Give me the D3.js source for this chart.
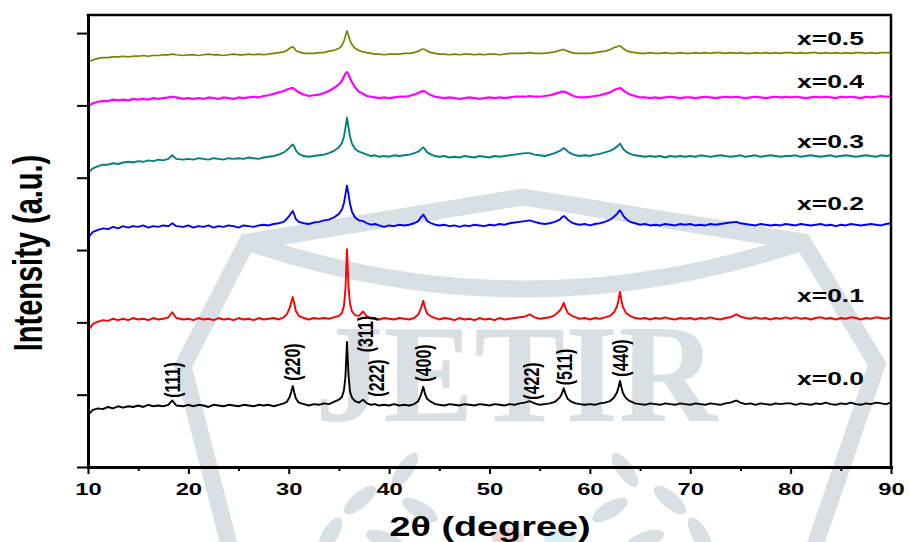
<!DOCTYPE html>
<html>
<head>
<meta charset="utf-8">
<script src="https://cdn.jsdelivr.net/npm/d3@7/dist/d3.min.js"></script>
<style>
	body { margin: 0; background: #fff; }
	svg { display: block; font-family: "Liberation Sans", Arial, sans-serif; }
</style>
</head>
<body>
<div id="chartDiv"></div>
<script>
// 2theta scan positions (deg)
var twoTheta = [
	10, 10.5, 11, 11.5, 12, 12.5, 13, 13.5, 14, 14.5, 15, 15.5, 16, 16.5, 17, 17.5, 18, 18.4, 18.8, 19.5,
	20, 20.5, 21, 21.5, 22, 22.5, 23, 23.5, 24, 24.5, 25, 25.5, 26, 26.5, 27, 27.5, 28, 28.5, 29, 29.5,
	29.8, 30.1, 30.25, 30.4, 30.55, 30.7, 31, 31.5, 32, 32.5, 33, 33.5, 34, 34.5, 35, 35.3, 35.5, 35.65, 35.8, 35.95,
	36.1, 36.3, 36.6, 37, 37.4, 37.8, 38.2, 38.6, 39, 39.5, 40, 40.5, 41, 41.5, 42, 42.5, 42.9, 43.15, 43.4, 43.6,
	43.8, 44.2, 44.6, 45, 45.5, 46, 46.5, 47, 47.5, 48, 48.5, 49, 49.5, 50, 50.5, 51, 51.5, 52, 52.5, 53,
	53.5, 54, 54.5, 55, 55.5, 56, 56.5, 57, 57.2, 57.4, 57.6, 57.8, 58.2, 58.6, 59, 59.5, 60, 60.5, 61, 61.5,
	62, 62.4, 62.7, 62.85, 63, 63.15, 63.3, 63.6, 64, 64.5, 65, 65.5, 66, 66.5, 67, 67.5, 68, 68.5, 69, 69.5,
	70, 70.5, 71, 71.5, 72, 72.5, 73, 73.5, 74, 74.6, 75, 75.5, 76, 76.5, 77, 77.5, 78, 78.5, 79, 79.5,
	80, 80.5, 81, 81.5, 82, 82.5, 83, 83.5, 84, 84.5, 85, 85.5, 86, 86.5, 87, 87.5, 88, 88.5, 89, 89.5,
	90
];

// stacked intensities (a.u.), one list per composition
var intX00 = [
	72, 79, 81, 80, 83, 81, 84, 82, 84, 83, 85, 83, 86, 84, 85, 84, 86, 92, 85, 84,
	86, 84, 86, 85, 83, 86, 85, 84, 86, 85, 84, 86, 85, 84, 86, 85, 86, 84, 86, 88,
	90, 97, 104, 112, 103, 95, 89, 87, 85, 87, 86, 88, 87, 90, 93, 97, 106, 125, 173, 128,
	104, 96, 91, 89, 93, 88, 86, 87, 85, 86, 85, 87, 85, 86, 85, 87, 91, 99, 111, 100,
	94, 90, 87, 86, 85, 87, 86, 85, 87, 86, 85, 87, 86, 85, 87, 86, 85, 87, 86, 88,
	89, 91, 88, 86, 87, 88, 90, 96, 101, 109, 100, 94, 90, 88, 87, 86, 87, 86, 88, 89,
	91, 96, 103, 110, 119, 110, 102, 95, 91, 88, 87, 86, 88, 87, 86, 88, 87, 86, 88, 87,
	86, 88, 87, 86, 88, 87, 86, 88, 89, 92, 89, 87, 88, 86, 88, 87, 86, 88, 87, 88,
	88, 86, 88, 87, 86, 88, 87, 89, 87, 86, 88, 87, 89, 87, 86, 88, 87, 89, 88, 87,
	89
];
var intX01 = [
	189, 198, 201, 203, 202, 205, 203, 205, 203, 206, 204, 205, 203, 206, 204, 205, 207, 214, 206, 204,
	205, 203, 206, 204, 205, 203, 206, 204, 205, 203, 206, 204, 205, 203, 206, 204, 205, 206, 204, 207,
	211, 220, 228, 235, 226, 216, 209, 206, 204, 206, 205, 206, 205, 207, 209, 213, 223, 246, 301, 250,
	226, 215, 210, 209, 215, 208, 205, 206, 204, 206, 205, 204, 206, 205, 204, 206, 211, 219, 230, 219,
	212, 208, 206, 204, 206, 205, 203, 206, 204, 205, 203, 206, 204, 205, 203, 206, 204, 205, 206, 207,
	208, 211, 207, 205, 206, 207, 210, 216, 221, 227, 219, 213, 209, 207, 205, 206, 204, 206, 205, 207,
	209, 214, 222, 231, 242, 230, 221, 213, 209, 206, 205, 206, 204, 206, 205, 207, 205, 204, 206, 205,
	206, 204, 206, 205, 207, 205, 204, 206, 207, 211, 208, 206, 205, 207, 205, 206, 204, 206, 205, 207,
	205, 207, 205, 206, 204, 206, 207, 205, 206, 204, 206, 205, 207, 206, 204, 206, 205, 207, 206, 205,
	207
];
var intX02 = [
	317, 325, 328, 330, 329, 332, 330, 333, 331, 333, 332, 334, 331, 333, 332, 334, 333, 337, 333, 332,
	334, 331, 333, 332, 334, 331, 333, 332, 334, 333, 331, 334, 333, 332, 334, 335, 334, 336, 337, 339,
	343, 348, 351, 354, 349, 343, 339, 337, 336, 338, 339, 341, 342, 345, 350, 356, 365, 377, 389, 378,
	364, 353, 345, 341, 340, 337, 335, 336, 334, 332, 334, 333, 335, 334, 335, 337, 340, 345, 349, 345,
	340, 337, 335, 334, 335, 333, 334, 332, 334, 333, 335, 334, 333, 335, 334, 336, 335, 337, 338, 339,
	340, 341, 339, 337, 336, 337, 339, 342, 345, 347, 345, 342, 338, 336, 335, 336, 334, 336, 337, 339,
	342, 346, 350, 353, 355, 352, 348, 343, 339, 337, 335, 336, 334, 335, 334, 336, 335, 334, 336, 335,
	336, 334, 335, 334, 336, 335, 336, 337, 338, 339, 337, 336, 335, 334, 336, 335, 334, 335, 334, 336,
	335, 334, 336, 335, 334, 335, 336, 334, 335, 333, 335, 334, 336, 335, 334, 335, 336, 335, 334, 336,
	337
];
var intX03 = [
	407, 413, 416, 418, 418, 420, 419, 421, 422, 421, 423, 422, 424, 423, 425, 424, 426, 431, 426, 425,
	426, 425, 427, 426, 425, 427, 426, 425, 427, 426, 427, 426, 428, 427, 426, 428, 429, 430, 432, 435,
	438, 442, 444, 446, 443, 438, 433, 430, 429, 430, 431, 432, 434, 437, 442, 448, 457, 469, 483, 470,
	457, 447, 440, 436, 434, 432, 430, 431, 429, 430, 429, 431, 430, 431, 432, 434, 436, 439, 442, 439,
	435, 432, 430, 429, 430, 428, 429, 428, 430, 429, 428, 430, 429, 428, 430, 429, 430, 431, 432, 433,
	434, 434, 432, 431, 430, 432, 434, 437, 439, 441, 439, 436, 433, 431, 430, 431, 430, 432, 433, 435,
	437, 440, 443, 445, 447, 444, 440, 436, 433, 431, 430, 429, 430, 429, 430, 428, 430, 429, 430, 429,
	430, 429, 431, 430, 429, 430, 431, 430, 429, 430, 431, 429, 430, 431, 429, 430, 431, 430, 429, 430,
	430, 431, 429, 430, 431, 430, 429, 430, 431, 429, 430, 431, 430, 429, 430, 431, 430, 429, 431, 430,
	431
];
var intX04 = [
	499, 503, 505, 506, 506, 508, 507, 508, 507, 509, 508, 509, 508, 510, 509, 510, 511, 512, 511, 509,
	510, 509, 510, 509, 511, 510, 509, 511, 510, 509, 511, 510, 511, 512, 511, 513, 514, 516, 518, 520,
	522, 523, 524, 524, 523, 521, 518, 515, 513, 514, 515, 517, 520, 524, 529, 534, 540, 544, 546, 543,
	538, 532, 525, 519, 516, 513, 512, 511, 510, 511, 510, 511, 512, 512, 513, 515, 517, 519, 520, 519,
	517, 514, 512, 511, 510, 511, 510, 509, 510, 511, 510, 509, 510, 511, 510, 511, 510, 511, 512, 512,
	512, 513, 512, 512, 513, 514, 516, 518, 519, 519, 518, 517, 514, 512, 511, 511, 512, 513, 514, 516,
	518, 521, 523, 523, 524, 523, 521, 518, 515, 513, 511, 511, 510, 511, 510, 511, 512, 511, 510, 511,
	511, 510, 511, 512, 511, 510, 511, 512, 511, 512, 511, 510, 511, 512, 511, 510, 511, 512, 511, 512,
	511, 512, 511, 510, 511, 512, 511, 512, 511, 510, 512, 511, 512, 511, 510, 512, 511, 512, 513, 512,
	512
];
var intX05 = [
	560, 563, 565, 566, 566, 567, 567, 568, 567, 568, 568, 569, 568, 569, 569, 570, 570, 571, 570, 569,
	570, 570, 569, 570, 571, 570, 570, 569, 570, 571, 570, 570, 571, 570, 571, 570, 571, 572, 573, 574,
	576, 579, 580, 581, 579, 576, 574, 572, 572, 572, 573, 573, 575, 576, 579, 583, 589, 596, 603, 597,
	590, 584, 579, 576, 574, 573, 572, 571, 571, 570, 571, 571, 571, 572, 572, 573, 575, 577, 578, 577,
	575, 573, 572, 571, 571, 570, 571, 570, 571, 571, 570, 571, 570, 571, 571, 570, 571, 572, 572, 572,
	572, 573, 572, 572, 572, 573, 574, 576, 577, 577, 576, 575, 573, 572, 572, 572, 572, 573, 574, 575,
	577, 580, 581, 582, 582, 581, 579, 576, 574, 573, 572, 572, 573, 572, 572, 573, 572, 572, 573, 572,
	572, 573, 572, 573, 572, 573, 573, 572, 573, 572, 573, 572, 572, 573, 572, 573, 572, 573, 572, 573,
	573, 572, 573, 572, 573, 573, 572, 573, 572, 573, 572, 573, 572, 573, 573, 572, 573, 572, 573, 573,
	573
];

var seriesNames = ["x=0.0", "x=0.1", "x=0.2", "x=0.3", "x=0.4", "x=0.5"];
var hklNames = ["(111)", "(220)", "(311)", "(222)", "(400)", "(422)", "(511)", "(440)"];
var hklTheta = [18.4, 30.4, 35.8, 37.4, 43.4, 54.0, 57.4, 63.0];
var xMajorTicks = [10, 20, 30, 40, 50, 60, 70, 80, 90];
var xMinorTicks = [15, 25, 35, 45, 55, 65, 75, 85];
var yTicks = [0, 100, 200, 300, 400, 500, 600];

;(function() {

	var width = 910;
	var height = 542;
	var plot = { left: 88, right: 891, top: 15, bottom: 467 };

	var lineColors = ["#000000", "#ff0000", "#0000ff", "#008080", "#ff00ff", "#808000"];
	var lineWidths = [1.9, 1.9, 1.9, 1.9, 2.2, 1.7];
	var labelBaselines = [385, 302, 210, 148, 88, 45];
	// label layout: horizontal nudge from the peak and vertical centre
	var hklDx = [8, 7, 26, 21, 8, 9, 8, 8];
	var hklCy = [380, 362, 334, 378, 363, 381, 367, 358];
	var stretch = 1.4;
	var wmColor = "#d9e0e5";

	var chart, xScale, yScale;

	init();

	function init() {
		chart = d3.select("#chartDiv").append("svg")
			.attr("width", width)
			.attr("height", height);

		xScale = d3.scaleLinear().domain([10, 90]).range([plot.left, plot.right]);
		yScale = d3.scaleLinear().domain([0, 625]).range([plot.bottom, plot.top]);

		drawWatermark();
		drawTraces();
		createAxes();
		drawLabels();
	}

	function drawWatermark() {
		var wm = chart.append("g").attr("class", "watermark");

		wm.append("path")
			.attr("d", "M233,560 L183,366 L247,242 L523,197 L803,242 L877,364 L810,560")
			.attr("fill", "none")
			.attr("stroke", wmColor)
			.attr("stroke-width", 17)
			.attr("stroke-linejoin", "miter");

		wm.append("path")
			.attr("d", "M250,243 Q523,335 800,243")
			.attr("fill", "none")
			.attr("stroke", wmColor)
			.attr("stroke-width", 17);

		wm.append("text")
			.attr("x", 315)
			.attr("y", 421)
			.attr("textLength", 402)
			.attr("lengthAdjust", "spacingAndGlyphs")
			.style("font-family", "'Liberation Serif', 'Times New Roman', serif")
			.style("font-size", "140px")
			.style("font-weight", "bold")
			.attr("fill", wmColor)
			.text("JETIR");

		// laurel leaves near the bottom
		var leaves = [
			[405, 470, -55], [360, 500, -40], [330, 535, -60], [420, 510, 30], [385, 540, 20],
			[625, 470, 55], [670, 500, 40], [700, 535, 60], [610, 510, -30], [645, 540, -20]
		];
		wm.selectAll(".leaf")
			.data(leaves).enter()
			.append("ellipse")
				.attr("class", "leaf")
				.attr("rx", 20)
				.attr("ry", 8)
				.attr("fill", wmColor)
				.attr("transform", function(d) {
					return "translate(" + d[0] + "," + d[1] + ") rotate(" + d[2] + ")";
				});

		wm.append("ellipse").attr("cx", 508).attr("cy", 538).attr("rx", 16).attr("ry", 10).attr("fill", "#f6d4d4");
		wm.append("ellipse").attr("cx", 560).attr("cy", 538).attr("rx", 16).attr("ry", 10).attr("fill", "#d4f1f3");
	}

	function drawTraces() {
		var allSeries = [intX00, intX01, intX02, intX03, intX04, intX05];

		var line = d3.line()
			.x(function(d) { return xScale(d[0]); })
			.y(function(d) { return yScale(d[1]); });

		chart.append("g").attr("class", "traces")
			.selectAll("path")
			.data(allSeries).enter()
			.append("path")
				.attr("fill", "none")
				.attr("stroke", function(d, i) { return lineColors[i]; })
				.attr("stroke-width", function(d, i) { return lineWidths[i]; })
				.attr("stroke-linejoin", "round")
				.attr("d", function(vals) {
					var pts = twoTheta.map(function(t, j) { return [t, vals[j]]; })
						.filter(function(p) { return p[1] != null; });
					return line(pts);
				});
	}

	function createAxes() {
		var xAxis = d3.axisBottom(xScale)
			.tickValues(xMajorTicks)
			.tickSize(7)
			.tickSizeOuter(0)
			.tickFormat(d3.format("d"));

		var xAxisContainer = chart.append("g")
			.attr("class", "x axis")
			.attr("transform", "translate(0," + plot.bottom + ")")
			.call(xAxis);

		xAxisContainer.selectAll("text")
			.attr("y", 28)
			.attr("dy", null)
			.attr("fill", "#000")
			.style("font-size", "17px")
			.style("font-weight", "bold")
			.attr("transform", "scale(" + stretch + ",1)");

		var xMinor = d3.axisBottom(xScale)
			.tickValues(xMinorTicks)
			.tickSize(4)
			.tickSizeOuter(0)
			.tickFormat("");

		chart.append("g")
			.attr("class", "x minor")
			.attr("transform", "translate(0," + plot.bottom + ")")
			.call(xMinor)
			.select(".domain").remove();

		var yAxis = d3.axisLeft(yScale)
			.tickValues(yTicks)
			.tickSize(11)
			.tickSizeOuter(0)
			.tickFormat("");

		chart.append("g")
			.attr("class", "y axis")
			.attr("transform", "translate(" + plot.left + ",0)")
			.call(yAxis);

		chart.selectAll(".axis .domain")
			.attr("stroke", "#000")
			.attr("stroke-width", 3)
			.attr("stroke-linecap", "square");
		chart.selectAll(".tick line")
			.attr("stroke", "#000")
			.attr("stroke-width", 2);

		// top and right frame
		chart.append("path")
			.attr("d", "M" + plot.left + "," + plot.top + "H" + plot.right + "V" + plot.bottom)
			.attr("fill", "none")
			.attr("stroke", "#000")
			.attr("stroke-width", 2.5)
			.attr("stroke-linecap", "square");

		// axis titles
		chart.append("text")
			.attr("text-anchor", "middle")
			.attr("transform", "translate(490,536) scale(" + stretch + ",1)")
			.style("font-size", "27px")
			.style("font-weight", "bold")
			.text("2\u03b8 (degree)");

		chart.append("text")
			.attr("text-anchor", "middle")
			.attr("transform", "translate(42,253) scale(" + stretch + ",1) rotate(-90)")
			.style("font-size", "29px")
			.style("font-weight", "bold")
			.text("Intensity (a.u.)");
	}

	function drawLabels() {
		chart.append("g").attr("class", "series-labels")
			.selectAll("text")
			.data(seriesNames).enter()
			.append("text")
				.attr("transform", function(d, i) {
					return "translate(797," + labelBaselines[i] + ") scale(1.47,1)";
				})
				.style("font-size", "18px")
				.style("font-weight", "bold")
				.text(function(d) { return d; });

		chart.append("g").attr("class", "hkl-labels")
			.selectAll("text")
			.data(hklNames).enter()
			.append("text")
				.attr("text-anchor", "middle")
				.attr("transform", function(d, i) {
					var bx = xScale(hklTheta[i]) + hklDx[i];
					return "translate(" + bx + "," + hklCy[i] + ") scale(" + stretch + ",1) rotate(-90)";
				})
				.style("font-size", "16px")
				.style("font-weight", "bold")
				.text(function(d) { return d; });
	}
})();
</script>
</body>
</html>
